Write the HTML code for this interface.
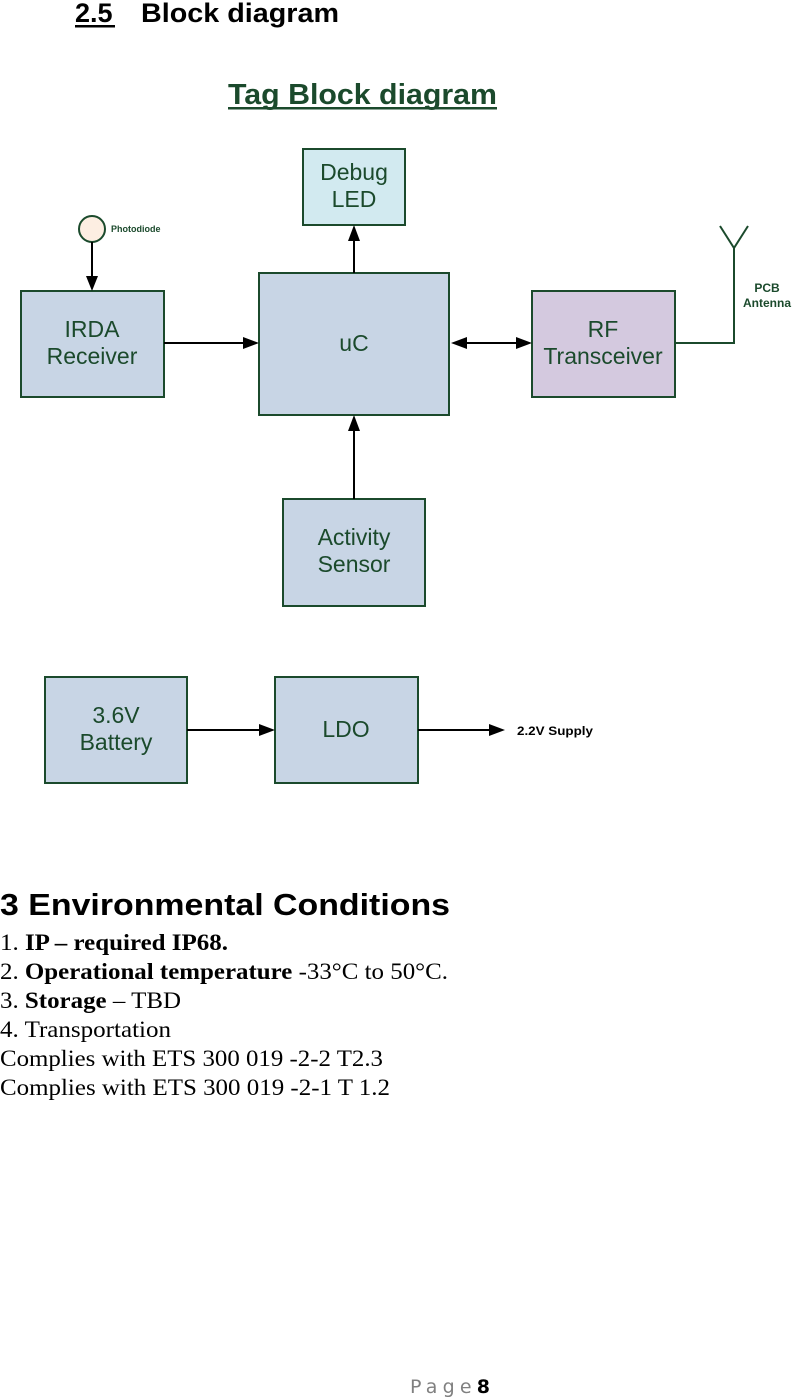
<!DOCTYPE html>
<html><head><meta charset="utf-8"><style>
html,body{margin:0;padding:0;background:#fff;}
body{width:793px;height:1398px;overflow:hidden;position:relative;}
svg{position:absolute;left:0;top:0;}
</style></head><body>
<svg width="793" height="1398" viewBox="0 0 793 1398" xmlns="http://www.w3.org/2000/svg">
<g font-family="Liberation Sans, sans-serif">
<text x="75" y="22" font-size="27" font-weight="bold" fill="#000">2.5</text>
<rect x="75" y="25" width="40" height="2.5" fill="#000"/>
<text x="141" y="22" font-size="27" font-weight="bold" fill="#000" textLength="198" lengthAdjust="spacingAndGlyphs">Block diagram</text>
<text x="228" y="104" font-size="29" font-weight="bold" fill="#1b4a2c" textLength="269" lengthAdjust="spacingAndGlyphs">Tag Block diagram</text>
<rect x="228" y="107" width="269" height="2.5" fill="#1b4a2c"/>

<g stroke="#1b4a2c" stroke-width="2">
<rect x="303" y="149" width="102" height="76" fill="#d2eaf0"/>
<rect x="21" y="291" width="143" height="106" fill="#c8d5e5"/>
<rect x="259" y="273" width="190" height="142" fill="#c8d5e5"/>
<rect x="532" y="291" width="143" height="106" fill="#d4c9df"/>
<rect x="283" y="499" width="142" height="107" fill="#c8d5e5"/>
<rect x="45" y="677" width="142" height="106" fill="#c8d5e5"/>
<rect x="275" y="677" width="143" height="106" fill="#c8d5e5"/>
<circle cx="92" cy="229" r="13" fill="#fdeee2"/>
<polyline points="675,343 734,343 734,248" fill="none"/>
<polyline points="720,226 734,248 748,226" fill="none"/>
</g>

<g stroke="#000" stroke-width="2" fill="none">
<line x1="92" y1="242" x2="92" y2="276"/>
<line x1="164" y1="343" x2="244" y2="343"/>
<line x1="466" y1="343" x2="516" y2="343"/>
<line x1="354" y1="273" x2="354" y2="240"/>
<line x1="354" y1="499" x2="354" y2="430"/>
<line x1="187" y1="730" x2="260" y2="730"/>
<line x1="418" y1="730" x2="490" y2="730"/>
</g>
<g fill="#000">
<polygon points="86,276 98,276 92,291"/>
<polygon points="243,337 243,349 259,343"/>
<polygon points="516,337 516,349 532,343"/>
<polygon points="467,337 467,349 451,343"/>
<polygon points="348,241 360,241 354,225"/>
<polygon points="348,431 360,431 354,415"/>
<polygon points="259,724 259,736 275,730"/>
<polygon points="489,724 489,736 505,730"/>
</g>

<g fill="#1b4a2c" font-size="23" text-anchor="middle">
<text x="354" y="180">Debug</text><text x="354" y="207">LED</text>
<text x="92" y="337">IRDA</text><text x="92" y="364">Receiver</text>
<text x="354" y="351">uC</text>
<text x="603" y="337">RF</text><text x="603" y="364">Transceiver</text>
<text x="354" y="545">Activity</text><text x="354" y="572">Sensor</text>
<text x="116" y="723">3.6V</text><text x="116" y="750">Battery</text>
<text x="346" y="737">LDO</text>
</g>
<g fill="#1b4a2c" font-size="12" font-weight="bold">
<text x="111" y="232" font-size="9">Photodiode</text>
<text x="767" y="292" text-anchor="middle">PCB</text>
<text x="767" y="307" text-anchor="middle">Antenna</text>
</g>
<text x="517" y="735" font-size="12" font-weight="bold" fill="#000" textLength="76" lengthAdjust="spacingAndGlyphs">2.2V Supply</text>

<text x="0" y="915" font-size="31" font-weight="bold" fill="#000" textLength="450" lengthAdjust="spacingAndGlyphs">3  Environmental Conditions</text>
</g>
<g font-family="Liberation Serif, serif" font-size="23" fill="#000">
<text x="0" y="950" textLength="228" lengthAdjust="spacingAndGlyphs">1. <tspan font-weight="bold">IP – required IP68.</tspan></text>
<text x="0" y="979" textLength="448" lengthAdjust="spacingAndGlyphs">2. <tspan font-weight="bold">Operational temperature</tspan> -33°C to 50°C.</text>
<text x="0" y="1008" textLength="181" lengthAdjust="spacingAndGlyphs">3. <tspan font-weight="bold">Storage</tspan> – TBD</text>
<text x="0" y="1037" textLength="171" lengthAdjust="spacingAndGlyphs">4. Transportation</text>
<text x="0" y="1066" textLength="383" lengthAdjust="spacingAndGlyphs">Complies with ETS 300 019 -2-2 T2.3</text>
<text x="0" y="1095" textLength="390" lengthAdjust="spacingAndGlyphs">Complies with ETS 300 019 -2-1 T 1.2</text>
</g>
<text x="410" y="1393" font-family="DejaVu Sans, sans-serif" font-size="19" fill="#808080" textLength="80" lengthAdjust="spacing">Page<tspan fill="#000" font-weight="bold">8</tspan></text>
</svg>
</body></html>
